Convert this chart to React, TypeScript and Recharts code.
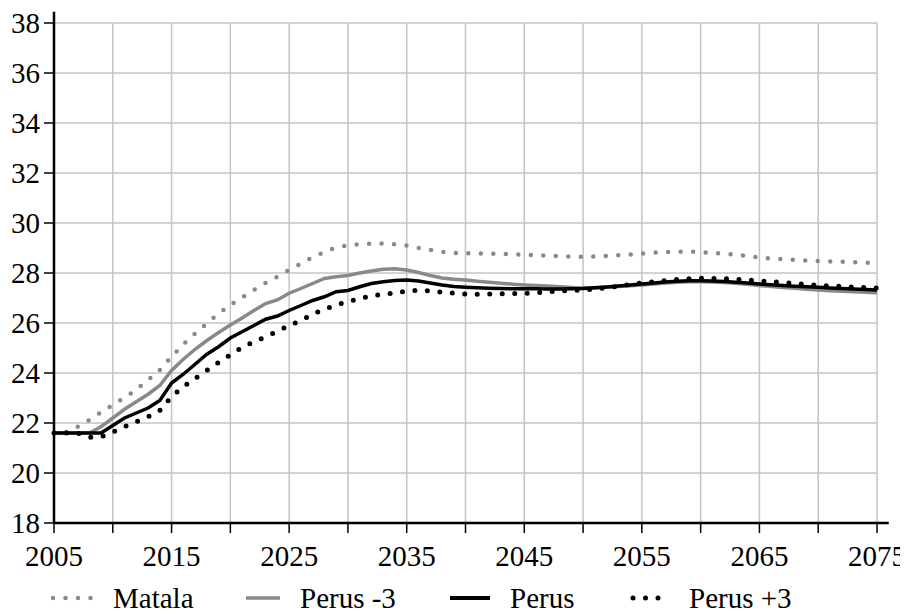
import { LineChart, Line, XAxis, YAxis, CartesianGrid, Legend, ReferenceLine } from 'recharts';

const years = [
  2005, 2006, 2007, 2008, 2009, 2010, 2011, 2012, 2013, 2014,
  2015, 2016, 2017, 2018, 2019, 2020, 2021, 2022, 2023, 2024,
  2025, 2026, 2027, 2028, 2029, 2030, 2031, 2032, 2033, 2034,
  2035, 2036, 2037, 2038, 2039, 2040, 2041, 2042, 2043, 2044,
  2045, 2046, 2047, 2048, 2049, 2050, 2051, 2052, 2053, 2054,
  2055, 2056, 2057, 2058, 2059, 2060, 2061, 2062, 2063, 2064,
  2065, 2066, 2067, 2068, 2069, 2070, 2071, 2072, 2073, 2074,
  2075,
];

const matala = [
  21.6, 21.63, 21.85, 22.12, 22.43, 22.72, 23.02, 23.33, 23.72, 24.12,
  24.65, 25.15, 25.58, 25.98, 26.38, 26.72, 27.02, 27.32, 27.6, 27.85,
  28.12, 28.37, 28.63, 28.84, 29.03, 29.1, 29.15, 29.18, 29.18, 29.15,
  29.1, 29.0, 28.92, 28.85, 28.8, 28.79, 28.78, 28.77, 28.76, 28.75,
  28.73, 28.71, 28.69, 28.67, 28.66, 28.65, 28.66, 28.68, 28.71, 28.74,
  28.78, 28.81, 28.84, 28.85, 28.85, 28.84, 28.8, 28.77, 28.73, 28.68,
  28.62, 28.58, 28.56, 28.53, 28.5, 28.48, 28.46, 28.45, 28.43, 28.41,
  28.4,
];

const perusMinus3 = [
  21.6, 21.6, 21.6, 21.6, 21.85, 22.2, 22.55, 22.85, 23.15, 23.5,
  24.1, 24.55, 24.95, 25.3, 25.62, 25.92, 26.2, 26.5, 26.78, 26.92,
  27.19, 27.38, 27.58, 27.78, 27.85, 27.9, 28.0, 28.08, 28.15, 28.17,
  28.12, 28.02, 27.9, 27.8, 27.75, 27.72, 27.67, 27.63, 27.59, 27.55,
  27.52, 27.5, 27.48, 27.45, 27.42, 27.4, 27.41, 27.43, 27.46, 27.49,
  27.52, 27.56, 27.6, 27.63, 27.65, 27.65, 27.64, 27.62, 27.59, 27.55,
  27.5, 27.46, 27.42, 27.39, 27.35, 27.32, 27.29, 27.27, 27.25, 27.23,
  27.21,
];

const perus = [
  21.6, 21.6, 21.6, 21.6, 21.6, 21.9, 22.2, 22.4, 22.6, 22.9,
  23.6, 23.95, 24.35, 24.75, 25.05, 25.4, 25.65, 25.9, 26.15, 26.28,
  26.5, 26.7, 26.9, 27.05, 27.25, 27.3, 27.45, 27.58, 27.65, 27.7,
  27.72, 27.68, 27.6, 27.52, 27.46, 27.43, 27.41, 27.39, 27.38, 27.37,
  27.37, 27.37, 27.36, 27.36, 27.37, 27.38, 27.41, 27.44, 27.48, 27.52,
  27.56, 27.6, 27.64, 27.67, 27.69, 27.69, 27.68, 27.66, 27.63, 27.6,
  27.56, 27.53, 27.5, 27.47, 27.45, 27.43, 27.4, 27.38, 27.36, 27.34,
  27.32,
];

const perusPlus3 = [
  21.6, 21.6, 21.6, 21.43, 21.45, 21.63, 21.85, 22.05, 22.25, 22.5,
  23.05, 23.45, 23.78, 24.1, 24.42, 24.72, 25.02, 25.25, 25.45, 25.67,
  25.9, 26.1, 26.35, 26.55, 26.72, 26.85, 26.98, 27.08, 27.15, 27.2,
  27.28, 27.31, 27.28, 27.23, 27.19, 27.16, 27.15, 27.16, 27.17, 27.18,
  27.19, 27.21, 27.25, 27.28, 27.3, 27.32, 27.36, 27.41, 27.47, 27.54,
  27.6, 27.65, 27.7, 27.74, 27.77, 27.79, 27.78, 27.77, 27.75, 27.72,
  27.69, 27.65, 27.62, 27.58, 27.54, 27.51, 27.48, 27.46, 27.44, 27.42,
  27.4,
];

const xTicks = [2005, 2010, 2015, 2020, 2025, 2030, 2035, 2040, 2045, 2050, 2055, 2060, 2065, 2070, 2075];
const yTicks = [18, 20, 22, 24, 26, 28, 30, 32, 34, 36, 38];

const data = years.map((year, i) => ({
  year,
  matala: matala[i],
  perusMinus3: perusMinus3[i],
  perus: perus[i],
  perusPlus3: perusPlus3[i],
}));

const GRAY = '#898989';
const FONT = '"Liberation Serif", serif';

const legendItems = [
  { label: 'Matala', left: 42, width: 46, color: GRAY, dotted: true, sw: 4.5 },
  { label: 'Perus -3', left: 235, width: 40, color: GRAY, dotted: false, sw: 3.5 },
  { label: 'Perus', left: 439, width: 46, color: '#000', dotted: false, sw: 4 },
  { label: 'Perus +3', left: 622, width: 42, color: '#000', dotted: true, sw: 5 },
];

function renderLegend() {
  return (
    <div style={{ position: 'relative', height: 34, width: 900, fontFamily: FONT, fontSize: 29 }}>
      {legendItems.map(item => (
        <div
          key={item.label}
          style={{ position: 'absolute', left: item.left, top: 0, height: 34, display: 'flex', alignItems: 'center' }}
        >
          <svg width={item.width} height={10} style={{ marginRight: 17 }}>
            <line
              x1={3}
              y1={5}
              x2={item.width - 3}
              y2={5}
              stroke={item.color}
              strokeWidth={item.sw}
              strokeLinecap={item.dotted ? 'round' : 'butt'}
              strokeDasharray={item.dotted ? '0 12.5' : undefined}
            />
          </svg>
          <span style={{ lineHeight: '34px', whiteSpace: 'nowrap' }}>{item.label}</span>
        </div>
      ))}
    </div>
  );
}

const tickStyle = { fill: '#000', fontSize: 29, fontFamily: FONT };

export default function App() {
  return (
    <div style={{ width: 900, height: 607, fontFamily: FONT }}>
      <LineChart
        width={900}
        height={607}
        data={data}
        margin={{ top: 15, right: 31, left: 0, bottom: 8 }}
        style={{ overflow: 'visible' }}
      >
        <CartesianGrid stroke="#c4c4c4" strokeWidth={1.5} />
        <XAxis
          dataKey="year"
          type="number"
          domain={[2005, 2075]}
          ticks={xTicks}
          interval={0}
          height={50}
          axisLine={false}
          tickLine={{ stroke: '#000', strokeWidth: 1.5 }}
          tickSize={10}
          tickMargin={12}
          tick={tickStyle}
          tickFormatter={(v: number) => ((v - 2005) % 10 === 0 ? String(v) : '')}
        />
        <YAxis
          type="number"
          domain={[18, 38]}
          ticks={yTicks}
          interval={0}
          width={46}
          axisLine={false}
          tickLine={{ stroke: '#000', strokeWidth: 1.5 }}
          tickSize={10}
          tickMargin={4}
          tick={tickStyle}
        />
        <ReferenceLine
          segment={[{ x: 2005, y: 18 }, { x: 2076, y: 18 }]}
          stroke="#000"
          strokeWidth={2.5}
          ifOverflow="visible"
        />
        <ReferenceLine
          segment={[{ x: 2005, y: 18 }, { x: 2005, y: 38.45 }]}
          stroke="#000"
          strokeWidth={2.5}
          ifOverflow="visible"
        />
        <Legend
          verticalAlign="bottom"
          content={renderLegend}
          wrapperStyle={{ left: 0, top: 573, width: 900, height: 34 }}
        />
        <Line
          dataKey="matala"
          name="Matala"
          stroke={GRAY}
          strokeWidth={4.5}
          strokeLinecap="round"
          strokeDasharray="0 12.5"
          dot={false}
          isAnimationActive={false}
        />
        <Line
          dataKey="perusMinus3"
          name="Perus -3"
          stroke={GRAY}
          strokeWidth={3.5}
          dot={false}
          isAnimationActive={false}
        />
        <Line
          dataKey="perus"
          name="Perus"
          stroke="#000"
          strokeWidth={3.5}
          dot={false}
          isAnimationActive={false}
        />
        <Line
          dataKey="perusPlus3"
          name="Perus +3"
          stroke="#000"
          strokeWidth={5}
          strokeLinecap="round"
          strokeDasharray="0 12.5"
          dot={false}
          isAnimationActive={false}
        />
      </LineChart>
    </div>
  );
}
